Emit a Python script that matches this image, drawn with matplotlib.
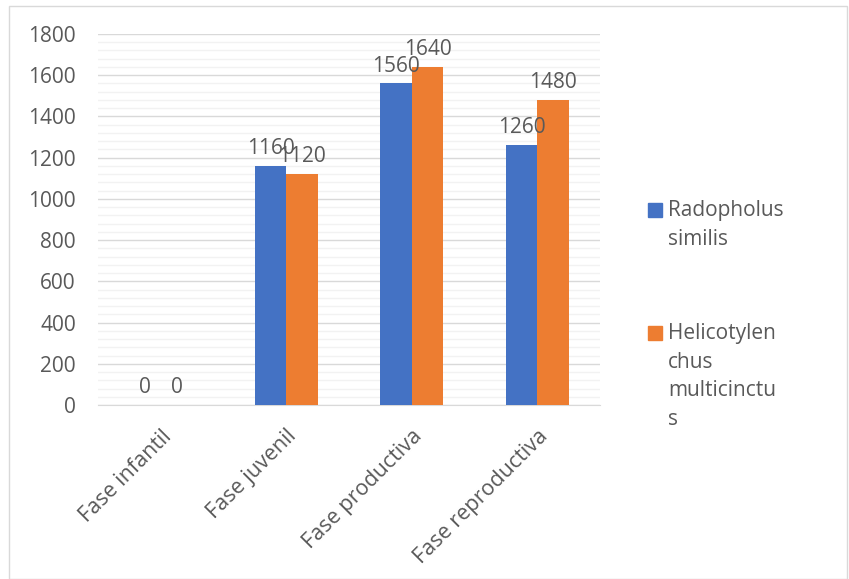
import numpy as np
import matplotlib.pyplot as plt
from matplotlib.patches import Rectangle
from matplotlib.ticker import MultipleLocator

categories = ['Fase infantil', 'Fase juvenil', 'Fase productiva', 'Fase reproductiva']
radopholus = [0, 1160, 1560, 1260]
helicotylenchus = [0, 1120, 1640, 1480]
series_names = ['Radopholus\nsimilis', 'Helicotylen\nchus\nmulticinctu\ns']

blue = '#4472C4'
orange = '#ED7D31'
text_color = '#595959'

plt.rcParams['font.family'] = ['Open Sans', 'DejaVu Sans']

fig = plt.figure(figsize=(8.49, 5.79), dpi=100)
fig.patches.append(Rectangle((9 / 849, 0), 838 / 849, 573 / 579, transform=fig.transFigure,
                             fill=False, edgecolor='#d9d9d9', linewidth=1))

ax = fig.add_axes([98 / 849, 174 / 579, 502 / 849, 371 / 579])
x = np.arange(len(categories))
w = 0.25
b1 = ax.bar(x - w / 2, radopholus, w, color=blue, zorder=3)
b2 = ax.bar(x + w / 2, helicotylenchus, w, color=orange, zorder=3)

for bars, vals in ((b1, radopholus), (b2, helicotylenchus)):
    for bar, v in zip(bars, vals):
        ax.annotate(str(v), (bar.get_x() + bar.get_width() / 2, v),
                    xytext=(0, 5), textcoords='offset points',
                    ha='center', va='bottom', fontsize=15, color=text_color)

ax.set_xlim(-0.5, len(categories) - 0.5)
ax.set_ylim(0, 1800)
ax.yaxis.set_major_locator(MultipleLocator(200))
ax.yaxis.set_minor_locator(MultipleLocator(40))
ax.grid(axis='y', which='major', color='#d9d9d9', linewidth=1, zorder=0)
ax.grid(axis='y', which='minor', color='#f2f2f2', linewidth=1, zorder=0)
for s in ('top', 'right', 'left'):
    ax.spines[s].set_visible(False)
ax.spines['bottom'].set_color('#d9d9d9')
ax.tick_params(axis='both', which='both', length=0, labelsize=15, labelcolor=text_color)
ax.tick_params(axis='y', pad=16)
ax.set_xticks(x)
ax.set_xticklabels(categories, rotation=45, ha='right', rotation_mode='anchor', fontsize=15.5)
ax.tick_params(axis='x', pad=15)

# legend drawn by hand so the wrapped names sit like the original
for name, color, ytop in ((series_names[0], blue, 200), (series_names[1], orange, 323)):
    fig.patches.append(Rectangle((648 / 849, 1 - (ytop + 17) / 579), 14 / 849, 14 / 579,
                                 transform=fig.transFigure, color=color))
    fig.text(668 / 849, 1 - ytop / 579, name, ha='left', va='top', fontsize=15,
             color=text_color, linespacing=1.48)

fig.savefig('out.png', dpi=100)
